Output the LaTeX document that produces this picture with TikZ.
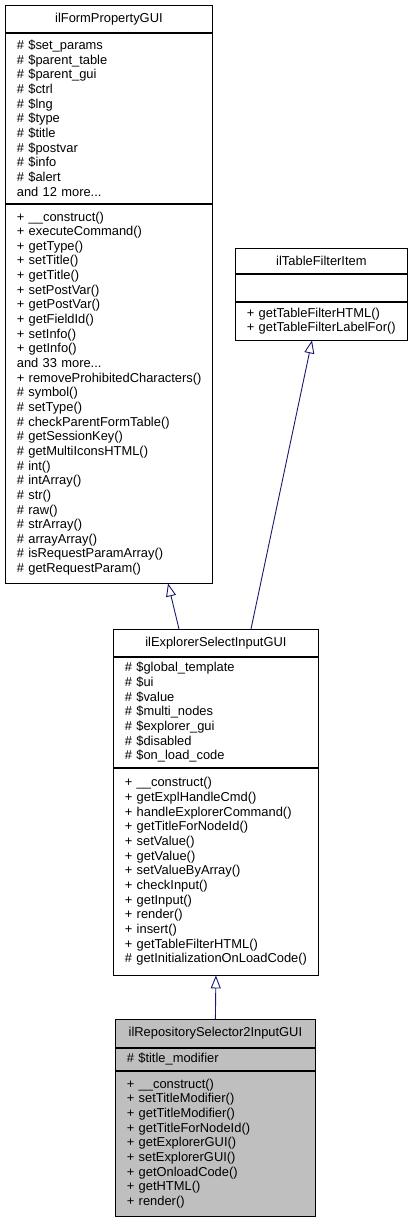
\documentclass[tikz,border=0pt]{standalone}
\usepackage{fontspec}
\setmainfont{Liberation Sans}
\usetikzlibrary{calc,arrows.meta}
\definecolor{edge}{HTML}{191970}
\definecolor{shade}{HTML}{BFBFBF}
\tikzset{
  part/.style={draw=black, line width=0.8pt, anchor=north west, inner xsep=11.5pt, inner ysep=0pt,
    align=left, font=\fontsize{12.9}{14.65}\selectfont,
    execute at begin node={\hyphenpenalty=10000\exhyphenpenalty=10000}},
  head/.style={part, align=center},
  inh/.style={draw=edge, line width=0.9pt, -{Triangle[open, length=13pt, width=10pt, fill=white]}},
}
\begin{document}
\begin{tikzpicture}[x=1pt, y=-1pt]
  \useasboundingbox (0,0) rectangle (413,1219);
  % ilFormPropertyGUI
  \node[head, text width=184pt, minimum height=27pt] (formT) at (5,5) {ilFormPropertyGUI};
  \node[part, text width=184pt, minimum height=170pt] (formA) at (formT.south west)
    {\# \$set\_params\\\# \$parent\_table\\\# \$parent\_gui\\\# \$ctrl\\\# \$lng\\\# \$type\\
     \# \$title\\\# \$postvar\\\# \$info\\\# \$alert\\and 12 more...};
  \node[part, text width=184pt, minimum height=379pt] (formM) at (formA.south west)
    {+ \_\_construct()\\+ executeCommand()\\+ getType()\\+ setTitle()\\+ getTitle()\\
     + setPostVar()\\+ getPostVar()\\+ getFieldId()\\+ setInfo()\\+ getInfo()\\and 33 more...\\
     +~removeProhibitedCharacters()\\\# symbol()\\\# setType()\\\# checkParentFormTable()\\
     \# getSessionKey()\\\# getMultiIconsHTML()\\\# int()\\\# intArray()\\\# str()\\\# raw()\\
     \# strArray()\\\# arrayArray()\\\# isRequestParamArray()\\\# getRequestParam()};
  % ilTableFilterItem
  \node[head, text width=149pt, minimum height=25pt] (itemT) at (235,248) {ilTableFilterItem};
  \node[part, text width=149pt, minimum height=27pt] (itemA) at (itemT.south west) {};
  \node[part, text width=149pt, minimum height=38pt] (itemM) at (itemA.south west)
    {+ getTableFilterHTML()\\+ getTableFilterLabelFor()};
  % ilExplorerSelectInputGUI
  \node[head, text width=182pt, minimum height=27pt] (explT) at (113,629) {ilExplorerSelectInputGUI};
  \node[part, text width=182pt, minimum height=110pt] (explA) at (explT.south west)
    {\# \$global\_template\\\# \$ui\\\# \$value\\\# \$multi\_nodes\\\# \$explorer\_gui\\
     \# \$disabled\\\# \$on\_load\_code};
  \node[part, text width=182pt, minimum height=207pt] (explM) at (explA.south west)
    {+ \_\_construct()\\+ getExplHandleCmd()\\+ handleExplorerCommand()\\+ getTitleForNodeId()\\
     + setValue()\\+ getValue()\\+ setValueByArray()\\+ checkInput()\\+ getInput()\\+ render()\\
     + insert()\\+ getTableFilterHTML()\\\#~getInitializationOnLoadCode()};
  % ilRepositorySelector2InputGUI
  \node[head, fill=shade, text width=177pt, minimum height=28pt] (repT) at (115,1019) {ilRepositorySelector2InputGUI};
  \node[part, fill=shade, text width=177pt, minimum height=22pt] (repA) at (repT.south west)
    {\# \$title\_modifier};
  \node[part, fill=shade, text width=177pt, minimum height=145pt] (repM) at (repA.south west)
    {+ \_\_construct()\\+ setTitleModifier()\\+ getTitleModifier()\\+ getTitleForNodeId()\\
     + getExplorerGUI()\\+ setExplorerGUI()\\+ getOnloadCode()\\+ getHTML()\\+ render()};
  % inheritance
  \coordinate (formIn) at ($(formM.south west)+(163,0)$);
  \coordinate (itemIn) at ($(itemM.south west)+(77,0)$);
  \coordinate (explOut1) at ($(explT.north west)+(66,0)$);
  \coordinate (explOut2) at ($(explT.north west)+(138,0)$);
  \draw[inh] (explOut1) -- (formIn);
  \draw[inh] (explOut2) -- (itemIn);
  \draw[inh] (repT.north) -- (explM.south);
\end{tikzpicture}
\end{document}
